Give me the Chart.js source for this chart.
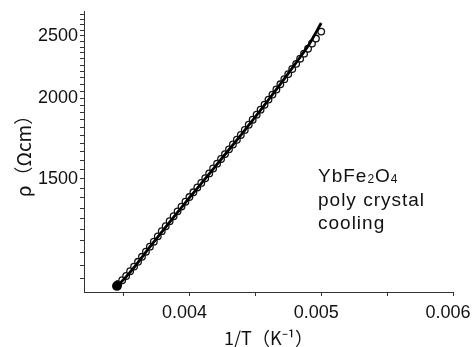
<!DOCTYPE html>
<html>
<head>
<meta charset="utf-8">
<script src="https://cdn.jsdelivr.net/npm/chart.js@4.4.0/dist/chart.umd.min.js"></script>
<style>
  html, body { margin: 0; padding: 0; background: #fff; }
</style>
</head>
<body>
<canvas id="rhoChart" width="472" height="347"></canvas>
<script>
// measured points (open circles), 1/T in K^-1 and rho in ohm cm
const invT = [0.00346, 0.00349, 0.00352, 0.00355, 0.00358, 0.00361, 0.00364, 0.00367, 0.00370, 0.00373,
  0.00376, 0.00379, 0.00382, 0.00385, 0.00388, 0.00391, 0.00394, 0.00397, 0.00400, 0.00403,
  0.00406, 0.00409, 0.00412, 0.00415, 0.00418, 0.00421, 0.00424, 0.00427, 0.00430, 0.00433,
  0.00436, 0.00439, 0.00442, 0.00445, 0.00448, 0.00451, 0.00454, 0.00457, 0.00460, 0.00463,
  0.00466, 0.00469, 0.00472, 0.00475, 0.00478, 0.00481, 0.00484, 0.00487, 0.00490, 0.00493,
  0.00496, 0.00500];
const rho = [1029, 1043, 1059, 1077, 1095, 1114, 1134, 1155, 1176, 1197,
  1220, 1243, 1265, 1288, 1311, 1334, 1357, 1381, 1404, 1428,
  1453, 1477, 1502, 1528, 1555, 1582, 1609, 1637, 1665, 1694,
  1723, 1753, 1785, 1818, 1851, 1885, 1919, 1953, 1989, 2025,
  2062, 2101, 2140, 2179, 2219, 2260, 2302, 2344, 2386, 2430,
  2474, 2536];

// solid black curve
const lineInvT = [0.00345, 0.00350, 0.00360, 0.00370, 0.00380, 0.00390, 0.00400, 0.00410, 0.00420,
  0.00430, 0.00440, 0.00450, 0.00460, 0.00470, 0.00480, 0.00490, 0.00500];
const lineRho = [1022, 1045, 1105, 1175, 1246, 1322, 1401, 1482, 1570,
  1663, 1762, 1870, 1988, 2116, 2256, 2408, 2615];

const xTicks = [0.0035, 0.004, 0.0045, 0.005, 0.0055, 0.006];
const xLabels = [0.004, 0.005, 0.006];
const yTicks = [1050, 1100, 1150, 1200, 1250, 1300, 1350, 1400, 1450, 1500,
  1550, 1600, 1650, 1700, 1750, 1800, 1850, 1900, 1950, 2000,
  2050, 2100, 2150, 2200, 2250, 2300, 2350, 2400, 2450, 2500,
  2550, 2600, 2650, 2700];
const yLabels = [1500, 2000, 2500];
const noteLines = ['YbFe2O4', 'poly crystal', 'cooling'];

const sans = "'Liberation Sans', Arial, sans-serif";
const jp = "'Noto Sans CJK JP', 'Liberation Sans', sans-serif";

// sample note in the middle right
const notePlugin = {
  id: 'note',
  afterDatasetsDraw(chart) {
    const c = chart.ctx;
    c.save();
    c.fillStyle = '#111';
    c.textBaseline = 'alphabetic';
    c.letterSpacing = '1px';
    const x0 = 318;
    noteLines.forEach((txt, i) => {
      const y = 182 + i * 23.5;
      if (i === 0) {
        // chemical formula, digits as subscripts
        let x = x0;
        for (const ch of txt) {
          const sub = /[0-9]/.test(ch);
          c.font = (sub ? '12px ' : '19px ') + sans;
          c.fillText(ch, x, y + (sub ? 1 : 0));
          x += c.measureText(ch).width;
        }
      } else {
        c.font = '19px ' + sans;
        c.fillText(txt, x0, y);
      }
    });
    c.restore();
  }
};

const ctx = document.getElementById('rhoChart').getContext('2d');
new Chart(ctx, {
  type: 'line',
  data: {
    datasets: [
      {
        label: 'cooling',
        data: invT.map((x, i) => ({ x: x, y: rho[i] })),
        showLine: false,
        pointStyle: 'circle',
        pointRadius: 3.3,
        pointBorderWidth: 1.3,
        pointBorderColor: '#111',
        pointBackgroundColor: '#fff',
        order: 1
      },
      {
        label: 'curve',
        data: lineInvT.map((x, i) => ({ x: x, y: lineRho[i] })),
        borderColor: '#000',
        borderWidth: 2.8,
        tension: 0.3,
        pointRadius: c => (c.dataIndex === 0 ? 3.5 : 0),
        pointBackgroundColor: '#000',
        pointBorderColor: '#000',
        order: 0
      }
    ]
  },
  options: {
    responsive: false,
    animation: false,
    devicePixelRatio: 1,
    layout: { padding: { top: 11, right: 19, left: 0, bottom: 0 } },
    plugins: {
      legend: { display: false },
      tooltip: { enabled: false }
    },
    scales: {
      x: {
        type: 'linear',
        min: 0.0032,
        max: 0.006,
        afterBuildTicks: s => { s.ticks = xTicks.map(v => ({ value: v })); },
        afterFit: s => { s.height = 55; s.paddingRight = 0; s.paddingLeft = 0; },
        grid: { drawOnChartArea: false, tickLength: 4, tickColor: '#333' },
        border: { color: '#333', width: 1 },
        ticks: {
          autoSkip: false,
          maxRotation: 0,
          padding: 6,
          labelOffset: -5,
          color: '#111',
          font: { family: sans, size: 18 },
          callback: v => (xLabels.includes(v) ? v.toFixed(3) : '')
        },
        title: {
          display: true,
          text: '1/T（K⁻¹）',
          color: '#111',
          font: { family: jp, size: 18, lineHeight: 1 },
          padding: { top: 0, bottom: 0 }
        }
      },
      y: {
        type: 'logarithmic',
        min: 1000,
        max: 2730,
        afterBuildTicks: s => { s.ticks = yTicks.map(v => ({ value: v })); },
        afterFit: s => { s.width = 84; s.paddingTop = 0; s.paddingBottom = 0; },
        grid: { drawOnChartArea: false, tickLength: 4, tickColor: '#333' },
        border: { color: '#333', width: 1 },
        ticks: {
          autoSkip: false,
          padding: 2,
          color: '#111',
          font: { family: sans, size: 18 },
          callback: v => (yLabels.includes(v) ? String(v) : '')
        },
        title: {
          display: true,
          text: 'ρ（Ωcm）',
          color: '#111',
          font: { family: jp, size: 19 },
          padding: { top: 12, bottom: 0 }
        }
      }
    }
  },
  plugins: [notePlugin]
});
</script>
</body>
</html>
